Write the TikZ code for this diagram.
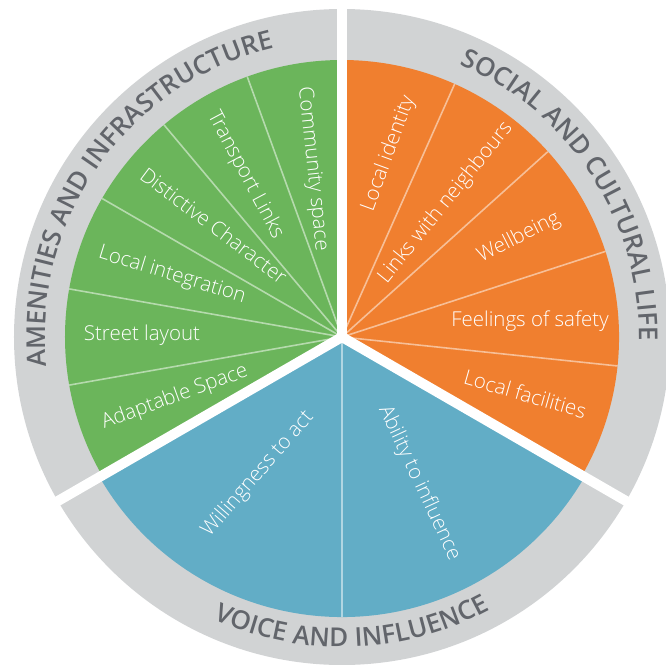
\documentclass[tikz,border=0pt]{standalone}
\usepackage{fontspec}
\setmainfont{Open Sans}
\newfontfamily\lightfont{Open Sans Light}
\newfontfamily\semifont{Open Sans Semibold}
\usetikzlibrary{decorations.text}
\definecolor{cgreen}{RGB}{107,181,91}
\definecolor{corange}{RGB}{240,127,47}
\definecolor{cblue}{RGB}{98,173,198}
\definecolor{cring}{RGB}{209,211,212}
\definecolor{clabel}{RGB}{98,101,107}
\begin{document}
\begin{tikzpicture}[x=1pt,y=1pt,
  lbl/.style={text=white, font=\lightfont\fontsize{20.5}{24}\selectfont, text height=15pt, text depth=5pt, inner sep=0pt, anchor=center},
  divider/.style={draw=white, line width=1.6pt, opacity=0.5},
  gap/.style={draw=white, line width=10pt},
  ringtext/.style={decorate, decoration={text along path, text align=center, text color=clabel,
      text={|\semifont\fontsize{26}{26}\selectfont|#1}}}]
\useasboundingbox (-342,-327) rectangle (324,337);
\coordinate (c) at (0,0);
% grey ring
\fill[cring] (c) circle (328);
% sectors
\fill[cgreen] (c) -- (90:277) arc (90:210:277) -- cycle;
\fill[corange] (c) -- (-30:277) arc (-30:90:277) -- cycle;
\fill[cblue] (c) -- (210:280) arc (210:330:280) -- cycle;
% inner dividers
\foreach \a in {110,130,150,170,190} \draw[divider] (c) -- (\a:277);
\foreach \a in {66,42,18,-6} \draw[divider] (c) -- (\a:277);
\draw[divider] (c) -- (-90:280);
% white gaps
\foreach \a/\n in {90/g1,210/g2,330/g3} {
  \coordinate (\n) at (\a:345);
  \draw[gap] (c) -- (\n);
}
\fill[white] (c) circle (6);
% ring labels
\path[ringtext={AMENITIES AND INFRASTRUCTURE}] (214.5:297) arc (214.5:74.5:297);
\path[ringtext={SOCIAL AND CULTURAL LIFE}] (103:297) arc (103:-37:297);
\path[ringtext={VOICE AND INFLUENCE}] (-158:310) arc (-158:-18:310);
% green labels
\node[lbl, rotate=-84] (n1) at (-29.5,168) {Community space};
\node[lbl, rotate=-62] (n2) at (-97,162) {Transport Links};
\node[lbl, rotate=-37] (n3) at (-129.5,109.5) {Distictive Character};
\node[lbl, rotate=-17] (n4) at (-170,61.5) {Local integration};
\node[lbl, rotate=0] (n5) at (-200,2) {Street layout};
\node[lbl, rotate=20] (n6) at (-167,-60.5) {Adaptable Space};
% blue labels
\node[lbl, rotate=49] (n7) at (-84,-137.5) {Willingness to act};
\node[lbl, rotate=-65] (n8) at (77,-146.5) {Ability to influence};
% orange labels
\node[lbl, rotate=-16] (n9) at (182.5,-59.5) {Local facilities};
\node[lbl, rotate=0] (n10) at (188,16) {Feelings of safety};
\node[lbl, rotate=27] (n11) at (177,99) {Wellbeing};
\node[lbl, rotate=51] (n12) at (104,134) {Links with neighbours};
\node[lbl, rotate=70] (n13) at (47,183.5) {Local identity};
\end{tikzpicture}
\end{document}
